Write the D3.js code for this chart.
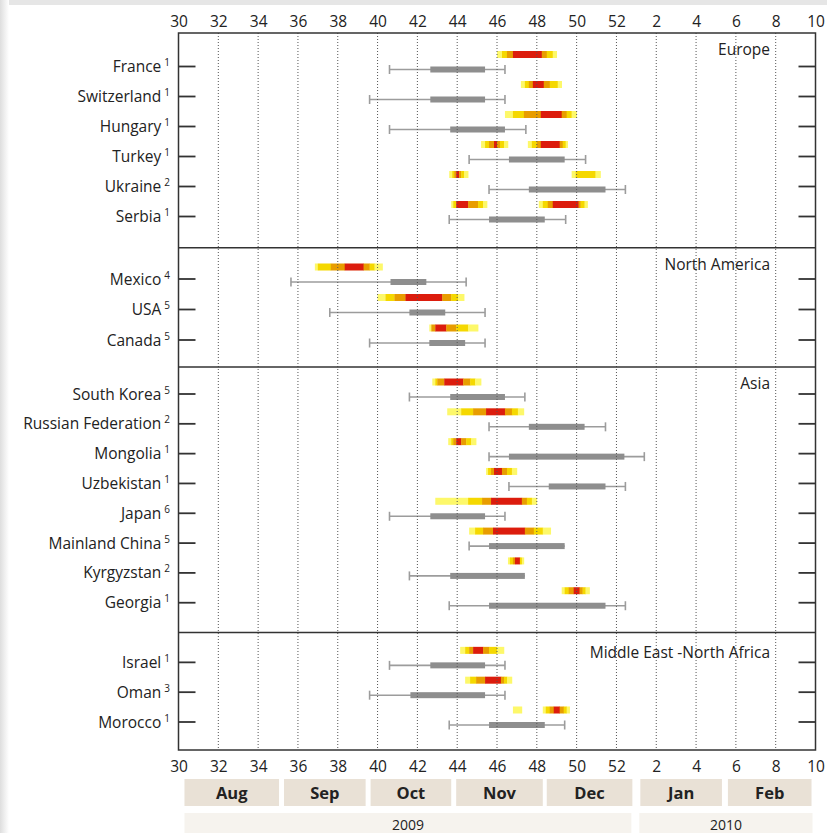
<!DOCTYPE html>
<html>
<head>
<meta charset="utf-8">
<script src="https://cdn.jsdelivr.net/npm/d3@7"></script>
<style>
  body { margin: 0; background: #fff; }
  svg text { font-family: "Open Sans", "DejaVu Sans", sans-serif; fill: #222; }
</style>
</head>
<body>
<svg id="chart"></svg>
<script>
// data (weeks: 2010 week w is drawn at 52 + w)
var regions = ["Europe", "North America", "Asia", "Middle East -North Africa"];

var countries = ["France", "Switzerland", "Hungary", "Turkey", "Ukraine", "Serbia",
  "Mexico", "USA", "Canada",
  "South Korea", "Russian Federation", "Mongolia", "Uzbekistan", "Japan", "Mainland China", "Kyrgyzstan", "Georgia",
  "Israel", "Oman", "Morocco"];

var notes = ["1", "1", "1", "1", "2", "1", "4", "5", "5", "5", "2", "1", "1", "6", "5", "2", "1", "1", "3", "1"];

var regionOf = [0, 0, 0, 0, 0, 0, 1, 1, 1, 2, 2, 2, 2, 2, 2, 2, 2, 3, 3, 3];

// [min, q1, q3, max] week of the spread
var spread = [
  [40.6, 42.65, 45.4, 46.4], [39.6, 42.65, 45.4, 46.4], [40.6, 43.65, 46.4, 47.45],
  [44.6, 46.6, 49.4, 50.45], [45.6, 47.6, 51.45, 52.45], [43.6, 45.6, 48.4, 49.45],
  [35.65, 40.65, 42.45, 44.45], [37.6, 41.6, 43.4, 45.4], [39.6, 42.6, 44.4, 45.4],
  [41.6, 43.65, 46.4, 47.4], [45.6, 47.6, 50.4, 51.45], [45.6, 46.6, 52.4, 53.4],
  [46.6, 48.6, 51.45, 52.45], [40.6, 42.65, 45.4, 46.4], [44.6, 45.6, 49.4, 49.4],
  [41.6, 43.65, 47.4, 47.4], [43.6, 45.6, 51.45, 52.45],
  [40.6, 42.65, 45.4, 46.4], [39.6, 41.65, 45.4, 46.4], [43.6, 45.6, 48.4, 49.4]
];

// peak activity strips: [start, end, level 1..4]
var peaks = [
  [[[46.0, 46.25, 1], [46.25, 46.5, 2], [46.5, 46.8, 3], [46.8, 48.25, 4], [48.25, 48.5, 3], [48.5, 48.8, 2], [48.8, 49.0, 1]]],
  [[[47.2, 47.4, 1], [47.4, 47.6, 2], [47.6, 47.8, 3], [47.8, 48.35, 4], [48.35, 48.65, 3], [48.65, 49.05, 2], [49.05, 49.25, 1]]],
  [[[46.4, 46.8, 1], [46.8, 47.35, 2], [47.35, 48.2, 3], [48.2, 49.25, 4], [49.25, 49.5, 3], [49.5, 49.75, 2], [49.75, 50.0, 1]]],
  [[[45.2, 45.4, 1], [45.4, 45.6, 2], [45.6, 45.85, 3], [45.85, 46.0, 4], [46.0, 46.15, 3], [46.15, 46.35, 2], [46.35, 46.55, 1]],
   [[47.55, 47.75, 1], [47.75, 48.0, 2], [48.0, 48.2, 3], [48.2, 49.15, 4], [49.15, 49.3, 3], [49.3, 49.45, 2], [49.45, 49.55, 1]]],
  [[[43.6, 43.75, 1], [43.75, 43.85, 2], [43.85, 43.95, 3], [43.95, 44.1, 4], [44.1, 44.2, 3], [44.2, 44.35, 2], [44.35, 44.55, 1]],
   [[49.75, 49.95, 1], [49.95, 50.95, 2], [50.95, 51.2, 1]]],
  [[[43.7, 43.8, 1], [43.8, 43.95, 2], [43.95, 44.55, 4], [44.55, 45.05, 3], [45.05, 45.3, 2], [45.3, 45.5, 1]],
   [[48.1, 48.3, 1], [48.3, 48.55, 2], [48.55, 48.8, 3], [48.8, 50.1, 4], [50.1, 50.2, 3], [50.2, 50.4, 2], [50.4, 50.55, 1]]],
  [[[36.85, 37.0, 1], [37.0, 37.65, 2], [37.65, 38.35, 3], [38.35, 39.3, 4], [39.3, 39.6, 3], [39.6, 39.85, 2], [39.85, 40.25, 1]]],
  [[[40.0, 40.4, 1], [40.4, 40.85, 2], [40.85, 41.4, 3], [41.4, 43.25, 4], [43.25, 43.7, 3], [43.7, 44.05, 2], [44.05, 44.35, 1]]],
  [[[42.6, 42.7, 1], [42.7, 42.9, 3], [42.9, 43.45, 4], [43.45, 43.95, 3], [43.95, 44.55, 2], [44.55, 45.05, 1]]],
  [[[42.75, 42.9, 1], [42.9, 43.0, 2], [43.0, 43.35, 3], [43.35, 44.3, 4], [44.3, 44.65, 3], [44.65, 44.9, 2], [44.9, 45.2, 1]]],
  [[[43.5, 44.2, 1], [44.2, 44.8, 2], [44.8, 45.45, 3], [45.45, 46.4, 4], [46.4, 46.75, 3], [46.75, 47.05, 2], [47.05, 47.35, 1]]],
  [[[43.55, 43.7, 1], [43.7, 43.8, 2], [43.8, 43.95, 3], [43.95, 44.2, 4], [44.2, 44.45, 3], [44.45, 44.7, 2], [44.7, 44.95, 1]]],
  [[[45.45, 45.55, 1], [45.55, 45.7, 2], [45.7, 45.85, 3], [45.85, 46.25, 4], [46.25, 46.5, 3], [46.5, 46.75, 2], [46.75, 47.0, 1]]],
  [[[42.9, 44.55, 1], [44.55, 45.25, 2], [45.25, 45.7, 3], [45.7, 47.25, 4], [47.25, 47.5, 3], [47.5, 47.75, 2], [47.75, 48.0, 1]]],
  [[[44.6, 44.9, 1], [44.9, 45.3, 2], [45.3, 45.8, 3], [45.8, 47.4, 4], [47.4, 47.85, 3], [47.85, 48.3, 2], [48.3, 48.7, 1]]],
  [[[46.55, 46.65, 1], [46.65, 46.8, 2], [46.8, 46.9, 3], [46.9, 47.15, 4], [47.15, 47.25, 2], [47.25, 47.35, 1]]],
  [[[49.25, 49.4, 1], [49.4, 49.6, 2], [49.6, 49.85, 3], [49.85, 50.15, 4], [50.15, 50.3, 3], [50.3, 50.45, 2], [50.45, 50.65, 1]]],
  [[[44.15, 44.4, 1], [44.4, 44.6, 2], [44.6, 44.8, 3], [44.8, 45.3, 4], [45.3, 45.6, 3], [45.6, 46.0, 2], [46.0, 46.35, 1]]],
  [[[44.4, 44.65, 1], [44.65, 44.95, 2], [44.95, 45.4, 3], [45.4, 46.2, 4], [46.2, 46.35, 3], [46.35, 46.5, 2], [46.5, 46.75, 1]]],
  [[[46.8, 47.25, 1]],
   [[48.3, 48.45, 1], [48.45, 48.65, 2], [48.65, 48.85, 3], [48.85, 49.15, 4], [49.15, 49.35, 3], [49.35, 49.5, 2], [49.5, 49.65, 1]]]
];

var weekTicks = d3.range(30, 63, 2);

var months = ["Aug", "Sep", "Oct", "Nov", "Dec", "Jan", "Feb"];
var monthSpan = [[30.3, 35.05], [35.3, 39.4], [39.65, 43.7], [43.95, 48.3], [48.5, 52.8], [53.2, 57.3], [57.6, 61.8]];
var years = ["2009", "2010"];
var yearSpan = [[30.3, 52.75], [53.15, 61.85]];

var levelColors = ["#fdf86a", "#f5d800", "#e89d00", "#dc1f0a"];

var width = 827, height = 833,
    plotLeft = 178.5, plotRight = 815.5, plotTop = 33, plotBottom = 750;

var svg = d3.select("#chart").attr("width", width).attr("height", height);

// page shadow
svg.append("rect").attr("x", 0).attr("y", 0).attr("width", width).attr("height", 5).attr("fill", "#e6e6e6");
var defs = svg.append("defs");
var grad = defs.append("linearGradient").attr("id", "sh");
grad.append("stop").attr("offset", 0).attr("stop-color", "#dedede");
grad.append("stop").attr("offset", 1).attr("stop-color", "#fff");
svg.append("rect").attr("x", 0).attr("y", 0).attr("width", 9).attr("height", height).attr("fill", "url(#sh)");

var blur = defs.append("filter").attr("id", "soft")
  .attr("x", "-5%").attr("y", "-50%").attr("width", "110%").attr("height", "200%");
blur.append("feGaussianBlur").attr("stdDeviation", 0.7);

var x = d3.scaleLinear().domain([30, 62]).range([plotLeft, plotRight]);

// slot per row, one blank slot between regions
var slotOf = function(i) { return i + 1 + regionOf[i]; };
var y = d3.scaleLinear().domain([1, 6, 8, 10, 12, 23]).range([66.5, 216.5, 279, 340, 394, 722]);

var weekLabel = function(w) { return w > 52 ? w - 52 : w; };

// peak strips
var strips = svg.append("g").attr("filter", "url(#soft)");
countries.forEach(function(c, i) {
  peaks[i].forEach(function(strip) {
    strips.selectAll(null)
      .data(strip)
      .enter().append("rect")
      .attr("x", function(d) { return x(d[0]); })
      .attr("width", function(d) { return x(d[1]) - x(d[0]) + 0.3; })
      .attr("y", y(slotOf(i)) - 15.5)
      .attr("height", 7)
      .attr("fill", function(d) { return levelColors[d[2] - 1]; });
  });
});

// spread whiskers
var rows = svg.append("g").selectAll("g")
  .data(spread)
  .enter().append("g")
  .attr("transform", function(d, i) { return "translate(0," + (y(slotOf(i)) + 3) + ")"; });

rows.append("line")
  .attr("x1", function(d) { return x(d[0]); })
  .attr("x2", function(d) { return x(d[3]); })
  .attr("stroke", "#9c9c9c").attr("stroke-width", 1.6);

rows.selectAll("line.cap")
  .data(function(d) { return d[3] > d[2] ? [d[0], d[3]] : [d[0]]; })
  .enter().append("line")
  .attr("class", "cap")
  .attr("x1", function(d) { return x(d); }).attr("x2", function(d) { return x(d); })
  .attr("y1", -4.5).attr("y2", 4.5)
  .attr("stroke", "#9c9c9c").attr("stroke-width", 1.6);

rows.append("rect")
  .attr("x", function(d) { return x(d[1]); })
  .attr("width", function(d) { return x(d[2]) - x(d[1]); })
  .attr("y", -3).attr("height", 6)
  .attr("fill", "#8e8e8e");

// dotted week grid
svg.append("g").selectAll("line")
  .data(weekTicks.slice(1, -1))
  .enter().append("line")
  .attr("x1", function(d) { return x(d); }).attr("x2", function(d) { return x(d); })
  .attr("y1", plotTop).attr("y2", plotBottom)
  .attr("stroke", "#555").attr("stroke-width", 1).attr("stroke-dasharray", "1,2");

// frame and region separators
svg.append("rect")
  .attr("x", plotLeft).attr("y", plotTop)
  .attr("width", plotRight - plotLeft).attr("height", plotBottom - plotTop)
  .attr("fill", "none").attr("stroke", "#333").attr("stroke-width", 1.5);

var regionTop = regions.map(function(r, k) {
  if (k == 0) return plotTop;
  var first = regionOf.indexOf(k);
  return y(slotOf(first) - 1);
});

svg.append("g").selectAll("line")
  .data(regionTop.slice(1))
  .enter().append("line")
  .attr("x1", plotLeft).attr("x2", plotRight)
  .attr("y1", function(d) { return d; }).attr("y2", function(d) { return d; })
  .attr("stroke", "#333").attr("stroke-width", 1.5);

svg.append("g").selectAll("text")
  .data(regions)
  .enter().append("text")
  .attr("x", 770)
  .attr("y", function(d, k) { return regionTop[k] + (k == 3 ? 25 : 22); })
  .attr("text-anchor", "end")
  .attr("font-size", "15.5px")
  .text(function(d) { return d; });

// row ticks, both sides
var ticks = svg.append("g");
countries.forEach(function(c, i) {
  var yy = y(slotOf(i));
  ticks.append("line").attr("x1", plotLeft).attr("x2", plotLeft + 17).attr("y1", yy).attr("y2", yy)
    .attr("stroke", "#333").attr("stroke-width", 1.8);
  ticks.append("line").attr("x1", plotRight - 17).attr("x2", plotRight).attr("y1", yy).attr("y2", yy)
    .attr("stroke", "#333").attr("stroke-width", 1.8);
});

// country labels
var labels = svg.append("g").selectAll("text")
  .data(countries)
  .enter().append("text")
  .attr("x", 170)
  .attr("y", function(d, i) { return y(slotOf(i)) + 5.5; })
  .attr("text-anchor", "end")
  .attr("font-size", "15.5px");
labels.append("tspan").text(function(d) { return d; });
labels.append("tspan")
  .attr("dx", 3).attr("dy", -6)
  .attr("font-size", "10px")
  .text(function(d, i) { return notes[i]; });

// week axes
var topAxis = svg.append("g").attr("transform", "translate(0," + plotTop + ")")
  .call(d3.axisTop(x).tickValues(weekTicks).tickFormat(weekLabel).tickSize(0).tickPadding(6));
var bottomAxis = svg.append("g").attr("transform", "translate(0," + plotBottom + ")")
  .call(d3.axisBottom(x).tickValues(weekTicks).tickFormat(weekLabel).tickSize(0).tickPadding(11));
[topAxis, bottomAxis].forEach(function(a) {
  a.select(".domain").remove();
  a.selectAll("text").attr("font-size", "15.5px").attr("font-family", "\"Open Sans\", sans-serif").attr("fill", "#222");
});

// month and year boxes
var mg = svg.append("g").selectAll("g")
  .data(months)
  .enter().append("g");
mg.append("rect")
  .attr("x", function(d, i) { return x(monthSpan[i][0]); })
  .attr("width", function(d, i) { return x(monthSpan[i][1]) - x(monthSpan[i][0]); })
  .attr("y", 779).attr("height", 27)
  .attr("fill", "#e9e1d6");
mg.append("text")
  .attr("x", function(d, i) { return x((monthSpan[i][0] + monthSpan[i][1]) / 2); })
  .attr("y", 798.5)
  .attr("text-anchor", "middle")
  .attr("font-size", "16.5px").attr("font-weight", "bold")
  .style("font-family", "\"Liberation Sans Narrow\", \"Open Sans\", sans-serif")
  .attr("fill", "#333")
  .text(function(d) { return d; });

var yg = svg.append("g").selectAll("g")
  .data(years)
  .enter().append("g");
yg.append("rect")
  .attr("x", function(d, i) { return x(yearSpan[i][0]); })
  .attr("width", function(d, i) { return x(yearSpan[i][1]) - x(yearSpan[i][0]); })
  .attr("y", 813).attr("height", 25)
  .attr("fill", "#f6f3ee");
yg.append("text")
  .attr("x", function(d, i) { return x((yearSpan[i][0] + yearSpan[i][1]) / 2); })
  .attr("y", 829.5)
  .attr("text-anchor", "middle")
  .attr("font-size", "14px")
  .attr("fill", "#333")
  .text(function(d) { return d; });
</script>
</body>
</html>
